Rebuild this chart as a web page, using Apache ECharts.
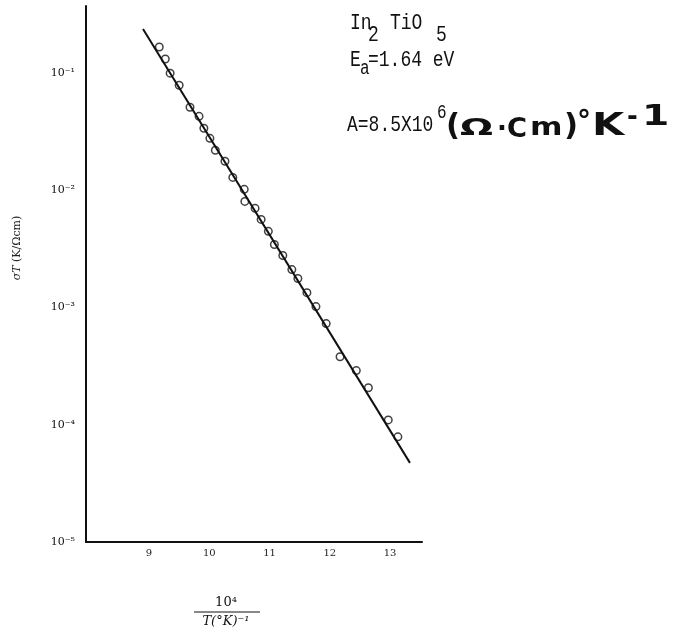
<!DOCTYPE html>
<html>
<head>
<meta charset="utf-8">
<script src="https://cdn.jsdelivr.net/npm/echarts@6/dist/echarts.min.js"></script>
<style>html,body{margin:0;padding:0;background:#fff;}#c{width:676px;height:636px;}</style>
</head>
<body>
<div id="c"></div>
<script>
// Measured data points: x = 10^4/T (K^-1), y = sigma*T (K/Ohm cm)
const pointX = [9.17, 9.27, 9.35, 9.50, 9.68, 9.83, 9.91, 10.01, 10.10, 10.26, 10.39, 10.58, 10.59, 10.76, 10.86, 10.98, 11.08, 11.22, 11.37, 11.47, 11.62, 11.77, 11.94, 12.17, 12.44, 12.64, 12.97, 13.13];
const pointY = [0.167, 0.132, 0.100, 0.0789, 0.0512, 0.0428, 0.0339, 0.0278, 0.0220, 0.0177, 0.0129, 0.0102, 0.00805, 0.00702, 0.00565, 0.00447, 0.00345, 0.00278, 0.00211, 0.00177, 0.00134, 0.00102, 0.000730, 0.000381, 0.000290, 0.000207, 0.000110, 0.0000789];
// Fitted line end points
const lineX = [8.90, 13.33];
const lineY = [0.238, 0.0000473];
// Tick values
const xTicks = [9, 10, 11, 12, 13];
const yTicks = [1e-5, 1e-4, 1e-3, 1e-2, 1e-1];
const supDigits = {'-':'\u207B','0':'\u2070','1':'\u00B9','2':'\u00B2','3':'\u00B3','4':'\u2074','5':'\u2075','6':'\u2076','7':'\u2077','8':'\u2078','9':'\u2079'};
function sup(s){return String(s).split('').map(c=>supDigits[c]||c).join('');}

const chart = echarts.init(document.getElementById('c'), null, {renderer:'canvas'});
const mono = '"Liberation Mono", "DejaVu Sans Mono", monospace';
const hand = '"DejaVu Sans", sans-serif';
const serif = '"DejaVu Serif", serif';
function t(x, y, text, size, font, weight, sx, sy){
  return {type:'text', x:x, y:y, scaleX:sx||1, scaleY:sy||1,
    style:{text:text, fontSize:size, fontFamily:font, fontWeight:weight||'normal', fill:'#111', textVerticalAlign:'top'}};
}
const S = 1.25;
const hy = 117;
const graphics = [
  t(350, 12, 'In', 18, mono, 'normal', 1, S),
  t(368, 24, '2', 18, mono, 'normal', 1, S),
  t(390, 12, 'TiO', 18, mono, 'normal', 1, S),
  t(436, 24, '5', 18, mono, 'normal', 1, S),
  t(350, 49, 'E', 18, mono, 'normal', 1, S),
  t(360, 59, 'a', 16, mono, 'normal', 1, S),
  t(368, 49, '=1.64 eV', 18, mono, 'normal', 1, S),
  t(347, 114, 'A=8.5X10', 18, mono, 'normal', 1, S),
  t(437, 103, '6', 16, mono, 'normal', 1, S),
  t(446, hy-4, '(', 28, hand, 'bold', 1.1, 1.05),
  t(460, hy, '\u03A9', 25, hand, 'bold', 1.55, 0.95),
  t(497, hy, '\u00B7', 26, hand, 'bold'),
  t(507, hy, 'C', 26, hand, 'bold', 1.05, 1),
  t(530, hy, 'm', 24, hand, 'bold', 1.3, 1),
  t(564, hy-4, ')', 28, hand, 'bold', 1.1, 1.05),
  t(577, hy-8, '\u00B0', 28, hand, 'bold'),
  t(592, hy-6, 'K', 32, hand, 'bold', 1.3, 1),
  t(627, hy-12, '-', 26, hand, 'bold'),
  t(642, hy-13, '1', 28, hand, 'bold', 1.4, 1),
  // y axis title
  {type:'text', x:17, y:248, rotation:Math.PI/2,
    style:{text:'{i|\u03C3T} (K/\u03A9cm)', fontSize:11, fontFamily:serif, fill:'#222', textAlign:'center', textVerticalAlign:'middle',
      rich:{i:{fontStyle:'italic', fontSize:11, fontFamily:serif, fill:'#222'}}}},
  // x axis title as fraction
  {type:'text', x:226, y:603, style:{text:'10'+sup(4), fontSize:13, fontFamily:serif, fill:'#111', textAlign:'center', textVerticalAlign:'middle'}},
  {type:'line', shape:{x1:194, y1:612, x2:260, y2:612}, style:{stroke:'#111', lineWidth:1}},
  {type:'text', x:226, y:622, style:{text:'T(\u00B0K)'+sup(-1), fontSize:13, fontStyle:'italic', fontFamily:serif, fill:'#111', textAlign:'center', textVerticalAlign:'middle'}}
];

chart.setOption({
  animation:false,
  backgroundColor:'#fff',
  grid:{left:86, right:254, top:6, bottom:94, containLabel:false},
  xAxis:{
    type:'value', min:7.954, max:13.53,
    axisLine:{show:true, onZero:false, lineStyle:{color:'#111', width:2}},
    axisTick:{show:false},
    splitLine:{show:false},
    axisLabel:{customValues:xTicks, margin:6, fontSize:10, fontFamily:serif, color:'#222', formatter:v=>String(v)}
  },
  yAxis:{
    type:'log', logBase:10, min:1e-5, max:0.374,
    axisLine:{show:true, lineStyle:{color:'#111', width:2}},
    axisTick:{show:false},
    splitLine:{show:false},
    axisLabel:{customValues:yTicks, margin:11, fontSize:11, fontFamily:serif, color:'#111',
      formatter:v=>'10'+sup(Math.round(Math.log10(v)))}
  },
  series:[
    {type:'line', data:lineX.map((x,i)=>[x,lineY[i]]), symbol:'none', lineStyle:{color:'#111', width:2}, z:2},
    {type:'scatter', data:pointX.map((x,i)=>[x,pointY[i]]), symbol:'circle', symbolSize:7.5,
      itemStyle:{color:'rgba(255,255,255,0)', borderColor:'#111', borderWidth:1.5}, z:3}
  ],
  graphic:graphics
});
</script>
</body>
</html>
